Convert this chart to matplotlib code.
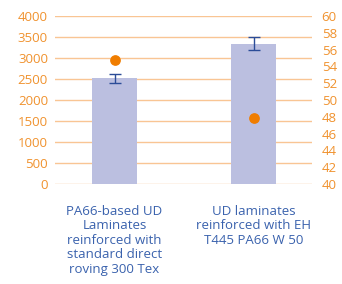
import matplotlib
matplotlib.use("Agg")
import matplotlib.pyplot as plt

categories = ["PA66-based UD\nLaminates\nreinforced with\nstandard direct\nroving 300 Tex",
              "UD laminates\nreinforced with EH\nT445 PA66 W 50"]
bar_values = [2520, 3340]
bar_errors = [110, 150]
dot_values = [54.8, 47.8]
left_ticks = [0, 500, 1000, 1500, 2000, 2500, 3000, 3500, 4000]
right_ticks = [40, 42, 44, 46, 48, 50, 52, 54, 56, 58, 60]

plt.rcParams['font.family'] = ['Open Sans', 'DejaVu Sans']
fig = plt.figure(figsize=(3.42, 2.84), dpi=100)
ax = fig.add_axes([55/342, 1-184/284, 257/342, 168/284])
ax2 = ax.twinx()

tick_col = '#f0922e'
grid_col = '#f9c594'
x = list(range(len(categories)))
ax.bar(x, bar_values, width=0.324, color='#bbbfe0', zorder=2)
ax.errorbar(x, bar_values, yerr=bar_errors, fmt='none', ecolor='#2b4c98',
            elinewidth=1, capsize=4, capthick=1, zorder=3)
ax.set_ylim(0, 4000)
ax.set_yticks(left_ticks)
ax.set_xlim(-0.428, 1.42)
ax.grid(axis='y', color=grid_col, linewidth=1, zorder=0)
ax.set_axisbelow(True)
ax.set_xticks(x)
ax.set_xticklabels(categories, color='#3a62ad', fontsize=9.5, linespacing=1.15)
ax.tick_params(axis='x', length=0, pad=15)
ax.tick_params(axis='y', length=0, colors=tick_col, labelsize=9.5, pad=5)

ax2.scatter(x, dot_values, s=45, color='#f07d00', zorder=4)
ax2.set_ylim(40, 60)
ax2.set_yticks(right_ticks)
ax2.tick_params(axis='y', length=0, colors=tick_col, labelsize=9.5, pad=7)

for a in (ax, ax2):
    for s in a.spines.values():
        s.set_visible(False)

fig.savefig("out.png", dpi=100)
